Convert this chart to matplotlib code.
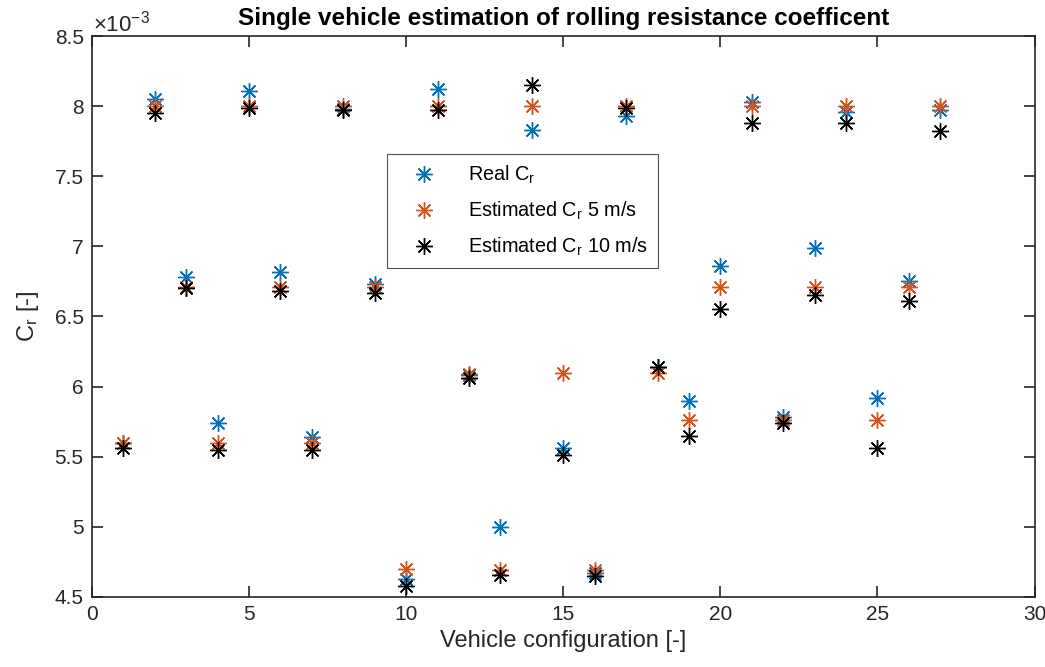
import matplotlib
matplotlib.use("Agg")
import matplotlib.pyplot as plt

plt.rcParams['font.family'] = ['Liberation Sans', 'DejaVu Sans']
plt.rcParams['mathtext.fontset'] = 'custom'
plt.rcParams['mathtext.rm'] = 'Liberation Sans'
plt.rcParams['mathtext.it'] = 'Liberation Sans'

config = list(range(1, 28))
# values in units of 1e-3
real_cr = [5.60, 8.05, 6.78, 5.74, 8.11, 6.82, 5.64, 7.98, 6.73, 4.63,
           8.12, 6.08, 5.00, 7.83, 5.56, 4.67, 7.93, 6.14, 5.90, 6.86,
           8.03, 5.78, 6.99, 7.96, 5.92, 6.75, 7.97]
est_5 = [5.60, 8.00, 6.71, 5.60, 8.00, 6.71, 5.60, 8.00, 6.71, 4.70,
         8.00, 6.09, 4.69, 8.00, 6.10, 4.69, 8.00, 6.10, 5.76, 6.71,
         8.00, 5.76, 6.71, 8.00, 5.76, 6.71, 8.00]
est_10 = [5.56, 7.95, 6.70, 5.55, 7.99, 6.68, 5.55, 7.97, 6.67, 4.58,
          7.97, 6.06, 4.66, 8.15, 5.51, 4.65, 7.99, 6.14, 5.65, 6.55,
          7.88, 5.74, 6.65, 7.88, 5.56, 6.61, 7.82]

blue = (0.0, 0.447, 0.741)
orange = (0.85, 0.325, 0.098)
ast = (8, 2, 0)

fig = plt.figure(figsize=(10.45, 6.67), dpi=100)
ax = fig.add_axes([0.088, 0.105, 0.902, 0.841])

ms = 12
ax.plot(config, real_cr, linestyle='none', marker=ast, markersize=ms,
        markeredgewidth=1.0, color=blue, label='Real C$_r$')
ax.plot(config, est_5, linestyle='none', marker=ast, markersize=ms,
        markeredgewidth=1.0, color=orange, label='Estimated C$_r$ 5 m/s')
ax.plot(config, est_10, linestyle='none', marker=ast, markersize=ms,
        markeredgewidth=1.0, color='black', label='Estimated C$_r$ 10 m/s')

ax.set_xlim(0, 30)
ax.set_ylim(4.5, 8.5)
ax.set_xticks([0, 5, 10, 15, 20, 25, 30])
ax.set_yticks([4.5, 5, 5.5, 6, 6.5, 7, 7.5, 8, 8.5])
ax.set_yticklabels(['4.5', '5', '5.5', '6', '6.5', '7', '7.5', '8', '8.5'])
ax.tick_params(direction='in', top=True, right=True, length=8, width=1.2,
               labelsize=15, colors='#262626', pad=6)
for s in ax.spines.values():
    s.set_linewidth(1.2)
    s.set_color('#262626')

ax.set_xlabel('Vehicle configuration [-]', fontsize=17, color='#262626', labelpad=4)
ax.set_ylabel('C$_r$ [-]', fontsize=17, color='#262626', labelpad=10)
ax.set_title('Single vehicle estimation of rolling resistance coefficent',
             fontsize=17.5, fontweight='bold', pad=8)
ax.text(0.001, 1.0, r'$\times$10$^{-3}$', transform=ax.transAxes,
        fontsize=16, color='#262626', ha='left', va='bottom')

leg = ax.legend(loc='lower left', bbox_to_anchor=(0.3128, 0.586), fontsize=14.3,
                frameon=True, fancybox=False, edgecolor='#262626',
                borderpad=0.5, labelspacing=0.7, handletextpad=0.9,
                handlelength=2.7, borderaxespad=0)
leg.get_frame().set_linewidth(0.8)

fig.savefig('out.png', dpi=100)
